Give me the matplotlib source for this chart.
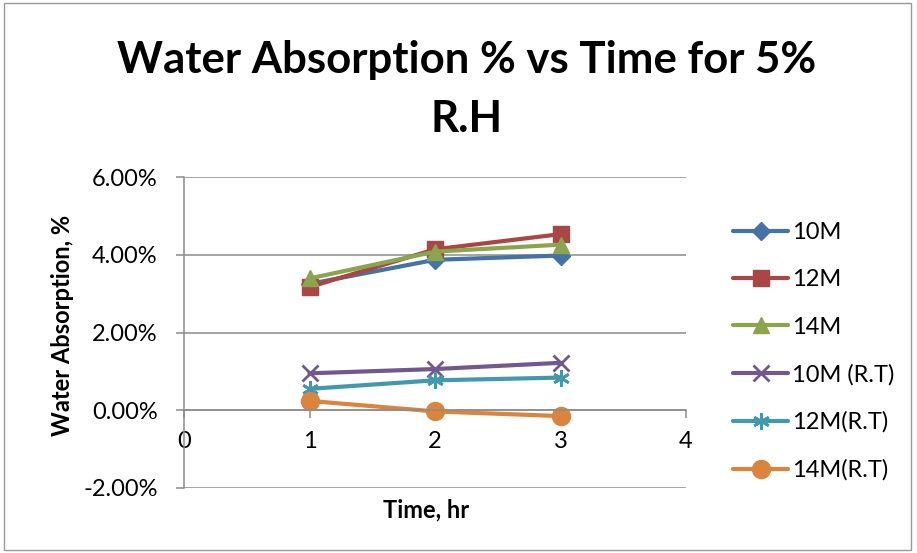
import matplotlib
matplotlib.use("Agg")
import matplotlib.pyplot as plt
from matplotlib.patches import Rectangle
from matplotlib.ticker import FuncFormatter

plt.rcParams['font.family'] = ['Lato', 'DejaVu Sans']

time_hr = [1, 2, 3]
series_names = ["10M", "12M", "14M", "10M (R.T)", "12M(R.T)", "14M(R.T)"]
s_10M = [3.25, 3.87, 3.98]
s_12M = [3.17, 4.14, 4.53]
s_14M = [3.39, 4.08, 4.26]
s_10M_RT = [0.95, 1.06, 1.22]
s_12M_RT = [0.55, 0.77, 0.84]
s_14M_RT = [0.24, -0.03, -0.15]
x_ticks = [0, 1, 2, 3, 4]
y_ticks = [-2, 0, 2, 4, 6]
title_lines = ["Water Absorption % vs Time for 5%", "R.H"]

values = [s_10M, s_12M, s_14M, s_10M_RT, s_12M_RT, s_14M_RT]
colors = ["#4572A7", "#AA4643", "#89A54E", "#71588F", "#4198AF", "#DB843D"]
markers = ["D", "s", "^", "x", (6, 2, 0), "o"]
msizes = [9, 12, 12, 12, 12, 13]

W, H = 917, 553
fig = plt.figure(figsize=(W / 100, H / 100), dpi=100)
fig.patches.append(Rectangle((0.004, 0.005), 0.99, 0.99, transform=fig.transFigure,
                             fill=False, edgecolor="#9a9a9a", linewidth=1.0))
ax = fig.add_axes([184 / W, 1 - 488 / H, 502 / W, 311 / H])

for name, vals, c, m, ms in zip(series_names, values, colors, markers, msizes):
    mew = 2.0 if m in ("x", (6, 2, 0)) else 1.0
    ax.plot(time_hr, vals, color=c, linewidth=3.0, marker=m, markersize=ms,
            markerfacecolor=c, markeredgecolor=c, markeredgewidth=mew,
            label=name, solid_capstyle="round", clip_on=False)

ax.set_xlim(0, 4)
ax.set_ylim(-2, 6)
ax.set_xticks(x_ticks)
ax.set_yticks(y_ticks)
ax.yaxis.set_major_formatter(FuncFormatter(lambda v, p: f"{v:.2f}%"))
ax.grid(axis="y", color="#8c8c8c", linewidth=1.1)
ax.set_axisbelow(True)
for s in ("top", "right"):
    ax.spines[s].set_visible(False)
ax.spines["bottom"].set_position(("data", 0))
ax.spines["bottom"].set_color("#8c8c8c")
ax.spines["left"].set_color("#8c8c8c")
ax.spines["bottom"].set_linewidth(1.1)
ax.spines["left"].set_linewidth(1.1)
ax.tick_params(axis="x", direction="out", length=6, width=1.1, color="#8c8c8c",
               labelsize=17, pad=9, labelcolor="black")
ax.tick_params(axis="y", direction="out", length=6, width=1.1, color="#8c8c8c",
               labelsize=17, pad=13, labelcolor="black")

ax.set_xlabel("Time, hr", fontsize=17, fontweight="bold")
ax.xaxis.label.set_va("center")
ax.xaxis.set_label_coords((426 - 184) / 502, -(510 - 488) / 311)
ax.set_ylabel("Water Absorption, %", fontsize=17, fontweight="bold")
ax.yaxis.label.set_va("center")
ax.yaxis.set_label_coords((62 - 184) / 502, (488 - 325) / 311)

fig.text(466.5 / W, 1 - 73 / H, title_lines[0], ha="center", va="baseline",
         fontsize=31.5, fontweight="bold")
fig.text(466.5 / W, 1 - 132 / H, title_lines[1], ha="center", va="baseline",
         fontsize=31.5, fontweight="bold")

leg = ax.legend(loc="center left", bbox_to_anchor=((733 - 184) / 502, (488 - 351.5) / 311),
                frameon=False, fontsize=17, handlelength=2.33, labelspacing=1.11,
                handletextpad=0.17, borderaxespad=0, borderpad=0)

fig.savefig("out.png", dpi=100)
